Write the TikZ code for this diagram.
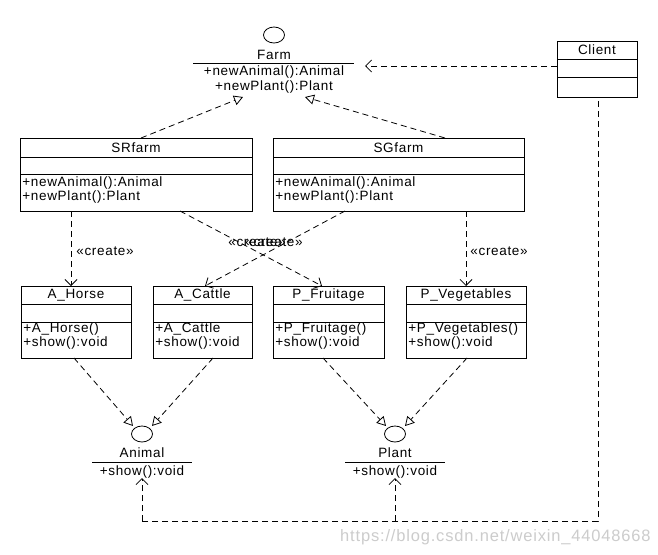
\documentclass[tikz,border=0pt]{standalone}
\usepackage{fontspec}
\setmainfont{Liberation Sans}[LetterSpace=5]
\usetikzlibrary{arrows.meta,shapes.geometric}
\begin{document}
\begin{tikzpicture}[x=1pt,y=-1pt,line width=0.8pt,
  cls/.style={draw,rectangle,anchor=north west,inner sep=0pt},
  txt/.style={font=\fontsize{13.5}{15}\selectfont,inner sep=0pt},
  ttl/.style={txt,anchor=center},
  mth/.style={txt,anchor=west},
  lbl/.style={txt,anchor=west},
  dsh/.style={dash pattern=on 6pt off 4pt},
  realize/.style={dsh,-{Triangle[open,length=9pt,width=10pt,line width=0.8pt]}},
  depend/.style={dsh,-{Straight Barb[length=6pt,width=12pt,line width=0.8pt]}},
  iface/.style={draw,ellipse,minimum width=21pt,minimum height=16pt,inner sep=0pt}]
\fill[white] (0,0) rectangle (658,554);
\useasboundingbox (0,0) rectangle (658,554);

% ---------- Farm interface ----------
\node[iface] (farm) at (274,35) {};
\node[ttl] (farmn) at (274,55) {Farm};
\draw (193,63) -- (354,63);
\node[ttl] (farmm1) at (274,72) {+newAnimal():Animal};
\node[ttl] (farmm2) at (274,87) {+newPlant():Plant};

% ---------- Client ----------
\node[cls,minimum width=80pt,minimum height=56pt] (cli) at (557,41) {};
\draw ([yshift=-18pt]cli.north west) -- ([yshift=-18pt]cli.north east);
\draw ([yshift=-36pt]cli.north west) -- ([yshift=-36pt]cli.north east);
\node[ttl] (clit) at (597,50) {Client};

% ---------- SRfarm ----------
\node[cls,minimum width=232pt,minimum height=73pt] (srf) at (20,138) {};
\draw ([yshift=-19pt]srf.north west) -- ([yshift=-19pt]srf.north east);
\draw ([yshift=-36pt]srf.north west) -- ([yshift=-36pt]srf.north east);
\node[ttl] (srft) at (136,147.5) {SRfarm};
\node[mth] (srfm1) at (22,183) {+newAnimal():Animal};
\node[mth] (srfm2) at (22,197) {+newPlant():Plant};

% ---------- SGfarm ----------
\node[cls,minimum width=251pt,minimum height=73pt] (sgf) at (273,138) {};
\draw ([yshift=-19pt]sgf.north west) -- ([yshift=-19pt]sgf.north east);
\draw ([yshift=-36pt]sgf.north west) -- ([yshift=-36pt]sgf.north east);
\node[ttl] (sgft) at (398.5,147.5) {SGfarm};
\node[mth] (sgfm1) at (275,183) {+newAnimal():Animal};
\node[mth] (sgfm2) at (275,197) {+newPlant():Plant};

% ---------- concrete products ----------
\node[cls,minimum width=110pt,minimum height=72pt] (hor) at (21,286) {};
\draw ([yshift=-18pt]hor.north west) -- ([yshift=-18pt]hor.north east);
\draw ([yshift=-36pt]hor.north west) -- ([yshift=-36pt]hor.north east);
\node[ttl] (hort) at (76,295) {A\_Horse};
\node[mth] (horm1) at (23,329) {+A\_Horse()};
\node[mth] (horm2) at (23,343) {+show():void};

\node[cls,minimum width=99pt,minimum height=72pt] (cat) at (153,286) {};
\draw ([yshift=-18pt]cat.north west) -- ([yshift=-18pt]cat.north east);
\draw ([yshift=-36pt]cat.north west) -- ([yshift=-36pt]cat.north east);
\node[ttl] (catt) at (202.5,295) {A\_Cattle};
\node[mth] (catm1) at (155,329) {+A\_Cattle};
\node[mth] (catm2) at (155,343) {+show():void};

\node[cls,minimum width=111pt,minimum height=72pt] (fru) at (273,286) {};
\draw ([yshift=-18pt]fru.north west) -- ([yshift=-18pt]fru.north east);
\draw ([yshift=-36pt]fru.north west) -- ([yshift=-36pt]fru.north east);
\node[ttl] (frut) at (328.5,295) {P\_Fruitage};
\node[mth] (frum1) at (275,329) {+P\_Fruitage()};
\node[mth] (frum2) at (275,343) {+show():void};

\node[cls,minimum width=120pt,minimum height=72pt] (veg) at (406,286) {};
\draw ([yshift=-18pt]veg.north west) -- ([yshift=-18pt]veg.north east);
\draw ([yshift=-36pt]veg.north west) -- ([yshift=-36pt]veg.north east);
\node[ttl] (vegt) at (466,295) {P\_Vegetables};
\node[mth] (vegm1) at (408,329) {+P\_Vegetables()};
\node[mth] (vegm2) at (408,343) {+show():void};

% ---------- Animal / Plant interfaces ----------
\node[iface] (ani) at (142,434) {};
\node[ttl] (anin) at (142,453) {Animal};
\draw (92,462) -- (192,462);
\node[ttl] (anim) at (142,472) {+show():void};

\node[iface] (pla) at (395,434) {};
\node[ttl] (plan) at (395,453) {Plant};
\draw (345,462) -- (445,462);
\node[ttl] (plam) at (395,472) {+show():void};

% ---------- connector end points ----------
\coordinate (farmL) at (243,97);
\coordinate (farmR) at (305,97);
\coordinate (farmC) at (365,66);
\coordinate (srfTop) at (141,138);
\coordinate (sgfTop) at (445,138);
\coordinate (cliW) at (557,66);
\coordinate (srfB1) at (71,211);
\coordinate (srfB2) at (180,211);
\coordinate (sgfB1) at (345,211);
\coordinate (sgfB2) at (466,211);
\coordinate (horT) at (71,286);
\coordinate (catT) at (205,286);
\coordinate (fruT) at (322,286);
\coordinate (vegT) at (466,286);
\coordinate (horB) at (74,358);
\coordinate (catB) at (213,358);
\coordinate (fruB) at (323,358);
\coordinate (vegB) at (467,358);
\coordinate (aniL) at (133,426);
\coordinate (aniR) at (152,426);
\coordinate (plaL) at (386,426);
\coordinate (plaR) at (405,426);
\coordinate (cliB) at (598,101);
\coordinate (cliK) at (598,521);
\coordinate (aniK) at (142,521);
\coordinate (plaK) at (395,521);
\coordinate (aniS) at (142,478);
\coordinate (plaS) at (395,478);

% ---------- realizations ----------
\draw[realize] (srfTop) -- (farmL);
\draw[realize] (sgfTop) -- (farmR);
\draw[realize] (horB) -- (aniL);
\draw[realize] (catB) -- (aniR);
\draw[realize] (fruB) -- (plaL);
\draw[realize] (vegB) -- (plaR);

% ---------- dependencies ----------
\draw[depend] (cliW) -- (farmC);
\draw[depend] (srfB1) -- (horT);
\draw[depend] (srfB2) -- (fruT);
\draw[depend] (sgfB1) -- (catT);
\draw[depend] (sgfB2) -- (vegT);
\draw[dsh] (cliB) -- (cliK) -- (aniK);
\draw[depend] (aniK) -- (aniS);
\draw[depend] (plaK) -- (plaS);

\node[lbl] (c1) at (76,251) {«create»};
\node[lbl] (c2) at (470,251) {«create»};
\node[lbl] (c3) at (228,242) {«create»};
\node[lbl] (c4) at (245,242) {«create»};

% ---------- watermark ----------
\node[txt,font=\fontsize{16.5}{18}\selectfont,anchor=east,text=black!20] (wm) at (651,537) {https://blog.csdn.net/weixin\_44048668};
\end{tikzpicture}
\end{document}
